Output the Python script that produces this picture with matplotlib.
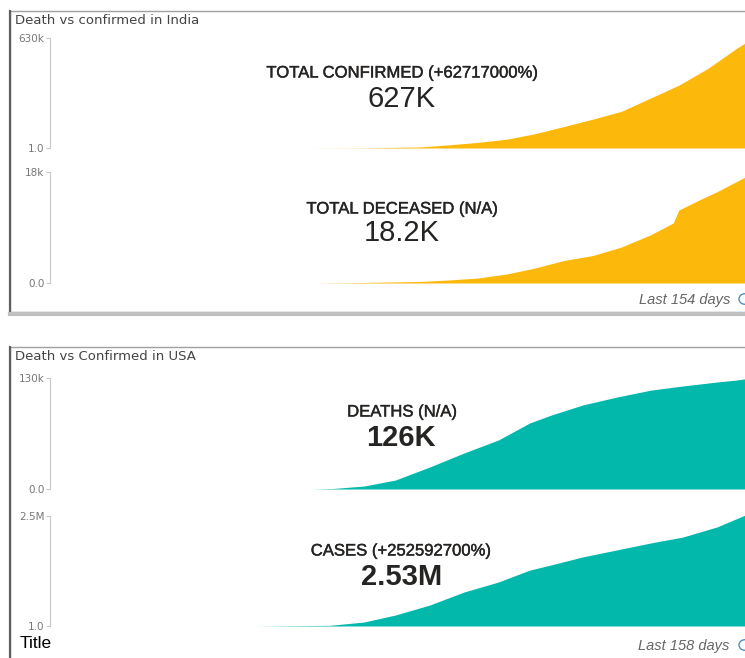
import matplotlib.pyplot as plt
import matplotlib.patheffects as pe
from matplotlib.patches import Rectangle, Circle
from matplotlib.lines import Line2D

W, H = 745, 658

# India, day index within the last 154 days
india_conf_days = [0, 20, 40, 50, 60, 70, 80, 90, 100, 110, 120, 130, 140, 150, 153]
india_conf = [1, 1000, 6000, 18000, 32000, 50000, 82000, 123000, 165000,
              210000, 285000, 360000, 455000, 570000, 601000]

india_dead_days = [3, 20, 40, 50, 60, 70, 80, 90, 100, 110, 120, 128, 130, 137, 143, 153]
india_dead = [0, 80, 250, 490, 800, 1450, 2430, 3650, 4450, 5830, 7780,
              9720, 11830, 13450, 14740, 17170]

# USA, day index within the last 158 days
usa_dead_days = [18, 25, 35, 45, 56, 67, 78, 88, 95, 105, 116, 127, 137, 148, 154, 157]
usa_dead = [0, 600, 3500, 10500, 25800, 42200, 57400, 77300, 86700, 98400,
            107700, 115900, 120600, 125300, 127500, 129000]

usa_cases_days = [0, 24, 35, 45, 56, 67, 78, 88, 95, 105, 116, 127, 137, 148, 157]
usa_cases = [1, 15000, 91000, 250000, 477000, 773000, 1000000, 1270000, 1390000,
             1570000, 1730000, 1890000, 2020000, 2250000, 2520000]

gold = '#FDB80C'
teal = '#01B8AA'

fig = plt.figure(figsize=(W / 100, H / 100), dpi=100)


def fx(x):
    return x / W


def fy(y):
    return 1 - y / H


def spark(top, bottom, days, vals, xlim, ylim, labels, color):
    ax = fig.add_axes([fx(50), fy(bottom), 1 - fx(50), (bottom - top) / H])
    ax.fill_between(days, vals, ylim[0], color=color, lw=0)
    ax.set_xlim(xlim)
    ax.set_ylim(ylim)
    ax.set_yticks(ylim)
    ax.set_yticklabels(labels)
    ax.set_xticks([])
    for s in ['top', 'right', 'bottom']:
        ax.spines[s].set_visible(False)
    ax.spines['left'].set_color('#c8c8c8')
    ax.tick_params(axis='y', length=3, color='#c8c8c8', labelcolor='#777777',
                   labelsize=7.5, pad=1)
    ax.patch.set_alpha(0)
    return ax


# panel frames
for top, bottom in [(11, 312), (347, 661)]:
    fig.patches.append(Rectangle((fx(10), fy(bottom)), fx(760), (bottom - top) / H,
                                 transform=fig.transFigure, fill=False,
                                 edgecolor='#a0a0a0', lw=1))
    fig.lines.append(Line2D([fx(10), fx(10)], [fy(top), fy(bottom)],
                            transform=fig.transFigure, color='#606060', lw=1.6))
fig.lines.append(Line2D([fx(10), 1], [fy(314), fy(314)], transform=fig.transFigure,
                        color='#c0c0c0', lw=3))

spark(38, 148, india_conf_days, india_conf, (-88.7, 153), (1, 630000), ['1.0', '630k'], gold)
spark(172, 283, india_dead_days, india_dead, (-88.7, 153), (0, 18000), ['0.0', '18k'], gold)
spark(378, 489, usa_dead_days, usa_dead, (-65.7, 157), (0, 130000), ['0.0', '130k'], teal)
spark(516, 626, usa_cases_days, usa_cases, (-65.7, 157), (1, 2500000), ['1.0', '2.5M'], teal)

dark = '#252423'
fig.text(fx(15), fy(20), 'Death vs confirmed in India', fontsize=9.5, color='#444444', va='center')
fig.text(fx(15), fy(357), 'Death vs Confirmed in USA', fontsize=9.5, color='#444444', va='center')

heavy = [pe.withStroke(linewidth=0.3, foreground=dark)]
lab = dict(family='Liberation Sans', ha='center', va='center', color=dark)
fig.text(fx(402), fy(73), 'TOTAL CONFIRMED (+62717000%)', fontsize=12, path_effects=heavy, **lab)
fig.text(fx(402), fy(99), '627K', fontsize=21, **lab)
fig.text(fx(402), fy(209), 'TOTAL DECEASED (N/A)', fontsize=12, path_effects=heavy, **lab)
fig.text(fx(402), fy(233), '18.2K', fontsize=21, **lab)
fig.text(fx(402), fy(412), 'DEATHS (N/A)', fontsize=12, path_effects=heavy, **lab)
fig.text(fx(401), fy(438), '126K', fontsize=21, fontweight='bold', **lab)
fig.text(fx(401), fy(551), 'CASES (+252592700%)', fontsize=12, path_effects=heavy, **lab)
fig.text(fx(402), fy(577), '2.53M', fontsize=21, fontweight='bold', **lab)

fig.text(fx(730), fy(300), 'Last 154 days', fontsize=10.5, style='italic', color='#666666',
         family='Liberation Sans', ha='right', va='center')
fig.text(fx(729), fy(646), 'Last 158 days', fontsize=10.5, style='italic', color='#666666',
         family='Liberation Sans', ha='right', va='center')
for cy in [299, 645]:
    fig.patches.append(Circle((fx(745), fy(cy)), 6 / W, transform=fig.transFigure,
                              fill=False, edgecolor='#4a90c8', lw=1))

fig.text(fx(20), fy(644), 'Title', fontsize=12.5, family='Liberation Sans',
         color='black', va='center')

fig.savefig('out.png', dpi=100)
